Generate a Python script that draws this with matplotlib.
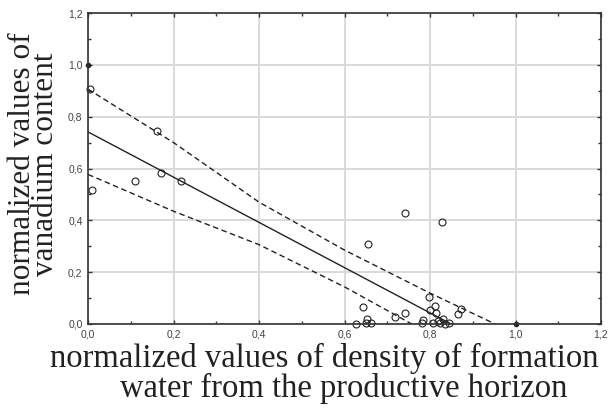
import matplotlib.pyplot as plt
from matplotlib.ticker import MultipleLocator, FuncFormatter

# ---- Data ----
x_pts = [0.005, 0.010, 0.109, 0.162, 0.170, 0.218, 0.656, 0.742, 0.829,
         0.644, 0.652, 0.650, 0.661, 0.627, 0.719, 0.742, 0.784, 0.781,
         0.798, 0.800, 0.812, 0.814, 0.806, 0.831, 0.823, 0.844, 0.866,
         0.873, 0.818, 0.836]
y_pts = [0.905, 0.516, 0.550, 0.746, 0.583, 0.550, 0.308, 0.428, 0.395,
         0.067, 0.021, 0.005, 0.003, 0.000, 0.028, 0.044, 0.015, 0.003,
         0.103, 0.054, 0.071, 0.041, 0.003, 0.021, 0.003, 0.005, 0.039,
         0.057, 0.012, 0.000]

# points sitting on the axes, drawn as small filled dots
x_dots = [0.0, 1.0]
y_dots = [1.0, 0.0]

# regression line
fit_x = [0.0, 0.849]
fit_y = [0.741, 0.0]

# confidence bands
up_x = [0.0, 0.2, 0.4, 0.6, 0.8, 0.952]
up_y = [0.906, 0.700, 0.470, 0.285, 0.119, 0.0]
lo_x = [0.0, 0.2, 0.4, 0.6, 0.757]
lo_y = [0.577, 0.435, 0.306, 0.143, 0.0]

xlabel_1 = "normalized values of density of formation"
xlabel_2 = "water from the productive horizon"
ylabel = "normalized values of\nvanadium content"

# ---- Plot ----
fig = plt.figure(figsize=(6.12, 4.08), dpi=100)
ax = fig.add_axes([0.144, 0.206, 0.838, 0.762])

ax.grid(True, which="major", color="#d9d9d9", linewidth=1.4)
ax.set_axisbelow(True)

ax.plot(fit_x, fit_y, color="#222222", linewidth=1.0)
ax.plot(up_x, up_y, color="#222222", linewidth=1.0, linestyle=(0, (4, 2.5)))
ax.plot(lo_x, lo_y, color="#222222", linewidth=1.0, linestyle=(0, (4, 2.5)))

ax.plot(x_pts, y_pts, linestyle="none", marker="o", markersize=5,
        markerfacecolor="none", markeredgecolor="#222222", markeredgewidth=0.8,
        clip_on=False)
ax.plot(x_dots, y_dots, linestyle="none", marker="o", markersize=3,
        color="#222222", clip_on=False)

ax.set_xlim(0, 1.2)
ax.set_ylim(0, 1.2)
ax.xaxis.set_major_locator(MultipleLocator(0.2))
ax.yaxis.set_major_locator(MultipleLocator(0.2))
ax.xaxis.set_minor_locator(MultipleLocator(0.1))
ax.yaxis.set_minor_locator(MultipleLocator(0.1))
fmt = FuncFormatter(lambda v, p: f"{v:.1f}".replace(".", ","))
ax.xaxis.set_major_formatter(fmt)
ax.yaxis.set_major_formatter(fmt)

ax.tick_params(which="both", direction="in", top=True, right=True,
               color="#333333", width=1.0)
ax.tick_params(which="major", length=3, labelsize=7.5, labelcolor="#444444", pad=4)
ax.tick_params(which="minor", length=2)
for t in ax.get_xticklabels() + ax.get_yticklabels():
    t.set_family("Liberation Sans")

for s in ax.spines.values():
    s.set_color("#333333")
    s.set_linewidth(1.2)

# x label: two lines, second one sits a little to the right as in the source
ax.set_xlabel(xlabel_1, family="Liberation Serif", fontsize=23.5,
              color="#222222", va="top")
ax.xaxis.set_label_coords(0.46, -0.06)
ax.text(0.498, -0.157, xlabel_2, transform=ax.transAxes, ha="center", va="top",
        family="Liberation Serif", fontsize=23.5, color="#222222")

ax.set_ylabel(ylabel, family="Liberation Serif", fontsize=22.5,
              color="#222222", linespacing=0.72)
ax.yaxis.set_label_coords(-0.055, 0.515)

fig.savefig("out.png", dpi=100)
